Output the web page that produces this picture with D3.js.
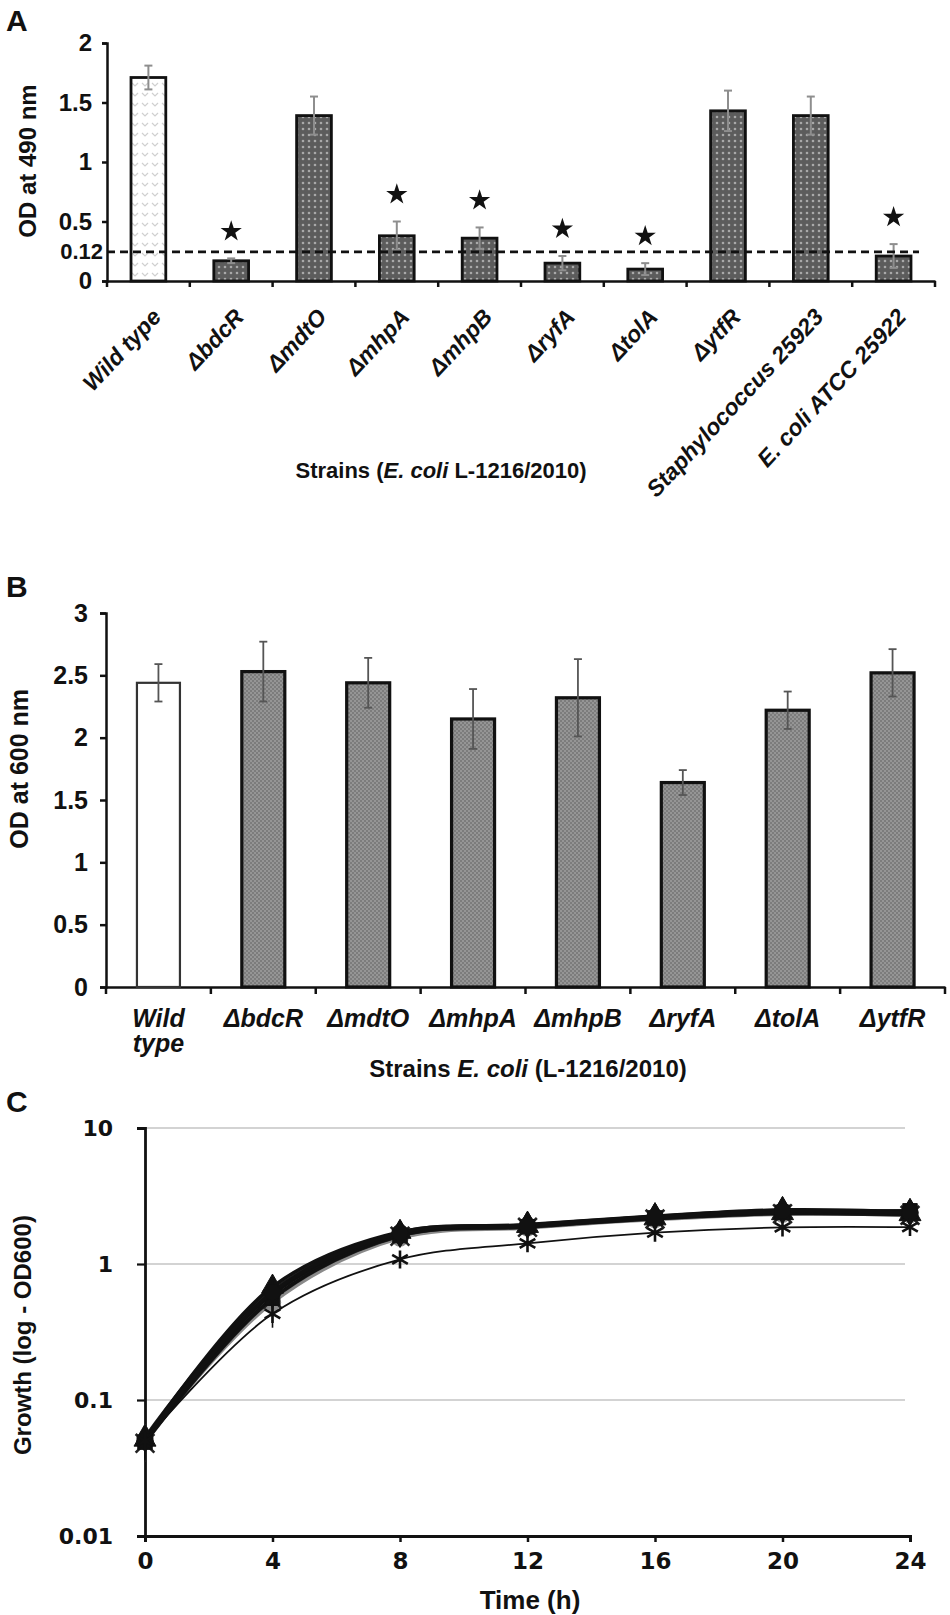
<!DOCTYPE html>
<html>
<head>
<meta charset="utf-8">
<title>Biofilm and growth of E. coli L-1216/2010 mutants</title>
<script src="https://d3js.org/d3.v7.min.js"></script>
<style>
  body { margin: 0; background: #fff; }
  svg text { font-family: "Liberation Sans", Arial, sans-serif; fill: #111; }
  .axis path, .axis line { stroke: #111; }
  .axisC text { font-family: "DejaVu Sans", sans-serif; font-weight: bold; }
</style>
</head>
<body>
<script>
// ---- Panel A: biofilm, OD at 490 nm
var strainsA = ["Wild type", "ΔbdcR", "ΔmdtO", "ΔmhpA", "ΔmhpB", "ΔryfA", "ΔtolA", "ΔytfR",
                "Staphylococcus 25923", "E. coli ATCC 25922"];
var biofilmOD = [1.71, 0.17, 1.39, 0.38, 0.36, 0.15, 0.10, 1.43, 1.39, 0.21];
var biofilmErr = [0.10, 0.02, 0.16, 0.12, 0.09, 0.06, 0.05, 0.17, 0.16, 0.10];
var biofilmSignif = [false, true, false, true, true, true, true, false, false, true];
var ticksA = [0, 0.5, 1, 1.5, 2];
var cutoffLabel = "0.12";
var cutoffDrawnAt = 0.245;   // where the original figure draws its 0.12 cut-off line

// ---- Panel B: planktonic growth, OD at 600 nm
var strainsB = ["Wild type", "ΔbdcR", "ΔmdtO", "ΔmhpA", "ΔmhpB", "ΔryfA", "ΔtolA", "ΔytfR"];
var growthOD = [2.44, 2.53, 2.44, 2.15, 2.32, 1.64, 2.22, 2.52];
var growthErr = [0.15, 0.24, 0.20, 0.24, 0.31, 0.10, 0.15, 0.19];
var ticksB = [0, 0.5, 1, 1.5, 2, 2.5, 3];

// ---- Panel C: growth curves (log OD600)
var hours = [0, 4, 8, 12, 16, 20, 24];
var odWild = [0.050, 0.62, 1.70, 1.92, 2.22, 2.45, 2.38];
var odBdcR = [0.052, 0.60, 1.66, 1.95, 2.25, 2.50, 2.42];
var odMdtO = [0.049, 0.56, 1.62, 1.88, 2.18, 2.40, 2.46];
var odMhpA = [0.051, 0.68, 1.72, 1.90, 2.16, 2.36, 2.32];
var odMhpB = [0.050, 0.52, 1.55, 1.84, 2.12, 2.32, 2.30];
var odRyfA = [0.050, 0.43, 1.08, 1.42, 1.70, 1.86, 1.87];
var odTolA = [0.048, 0.55, 1.60, 1.86, 2.14, 2.34, 2.28];
var odYtfR = [0.053, 0.64, 1.68, 1.94, 2.24, 2.48, 2.40];
var odErr = [0.013, 0.09, 0.06, 0.06, 0.07, 0.07, 0.07];
var ticksCx = [0, 4, 8, 12, 16, 20, 24];
var ticksCy = [0.01, 0.1, 1, 10];

var svg = d3.select("body").append("svg")
    .attr("width", 950)
    .attr("height", 1615);

// fill patterns
var defs = svg.append("defs");
var pDark = defs.append("pattern").attr("id", "dotsDark")
    .attr("patternUnits", "userSpaceOnUse").attr("width", 6).attr("height", 6);
pDark.append("rect").attr("width", 6).attr("height", 6).attr("fill", "#5c5c5c");
pDark.append("circle").attr("cx", 3).attr("cy", 3).attr("r", 1.3).attr("fill", "#a9a9a9");

var pLight = defs.append("pattern").attr("id", "chevLight")
    .attr("patternUnits", "userSpaceOnUse").attr("width", 10).attr("height", 10);
pLight.append("rect").attr("width", 10).attr("height", 10).attr("fill", "#fff");
pLight.append("path").attr("d", "M2,3 L5,6 L8,3").attr("fill", "none")
    .attr("stroke", "#d0d0d0").attr("stroke-width", 1.2);

var pCheck = defs.append("pattern").attr("id", "checkGray")
    .attr("patternUnits", "userSpaceOnUse").attr("width", 4).attr("height", 4);
pCheck.append("rect").attr("width", 4).attr("height", 4).attr("fill", "#959595");
pCheck.append("rect").attr("width", 2).attr("height", 2).attr("fill", "#7c7c7c");
pCheck.append("rect").attr("x", 2).attr("y", 2).attr("width", 2).attr("height", 2).attr("fill", "#7c7c7c");

// panel letters
svg.append("text").attr("x", 6).attr("y", 31).attr("font-size", 30).attr("font-weight", "bold").text("A");
svg.append("text").attr("x", 6).attr("y", 597).attr("font-size", 30).attr("font-weight", "bold").text("B");
svg.append("text").attr("x", 6).attr("y", 1112).attr("font-size", 30).attr("font-weight", "bold").text("C");

// ================= Panel A =================
var xA = d3.scaleBand().domain(strainsA).range([107, 935]).paddingInner(0.58).paddingOuter(0.29);
var yA = d3.scaleLinear().domain([0, 2]).range([281, 43]);
var gA = svg.append("g");

gA.append("g").attr("class", "axis")
    .attr("transform", "translate(107,0)")
    .call(d3.axisLeft(yA).tickValues(ticksA.concat([cutoffDrawnAt])).tickSize(5).tickPadding(10)
        .tickFormat(function(d) { return d === cutoffDrawnAt ? cutoffLabel : String(d); }))
    .call(function(g) {
        g.select(".domain").attr("stroke-width", 2.5);
        g.selectAll(".tick line").attr("stroke-width", 2.5)
            .filter(function(d) { return d === cutoffDrawnAt; }).remove();
        g.selectAll("text").attr("font-size", 24).attr("font-weight", "bold").attr("fill", "#111");
        g.selectAll(".tick text").filter(function(d) { return d === cutoffDrawnAt; })
            .attr("font-size", 22).attr("x", -4).attr("fill", "#444");
    });

gA.append("g").attr("class", "axis")
    .attr("transform", "translate(0," + yA(0) + ")")
    .call(d3.axisBottom(xA).tickSize(0).tickFormat(""))
    .call(function(g) { g.select(".domain").attr("stroke-width", 2.5); });

// boundary ticks between categories
gA.selectAll(".btick").data(d3.range(strainsA.length + 1)).join("line")
    .attr("x1", function(i) { return xA.range()[0] + i * xA.step(); })
    .attr("x2", function(i) { return xA.range()[0] + i * xA.step(); })
    .attr("y1", yA(0)).attr("y2", yA(0) + 6)
    .attr("stroke", "#111").attr("stroke-width", 2.5);

// bars
gA.selectAll(".barA").data(strainsA).join("rect")
    .attr("x", function(d) { return xA(d); })
    .attr("width", xA.bandwidth())
    .attr("y", function(d, i) { return yA(biofilmOD[i]); })
    .attr("height", function(d, i) { return yA(0) - yA(biofilmOD[i]); })
    .attr("fill", function(d, i) { return i === 0 ? "url(#chevLight)" : "url(#dotsDark)"; })
    .attr("stroke", "#111").attr("stroke-width", 2.8);

// error bars
var errA = gA.selectAll(".errA").data(strainsA).join("g")
    .attr("stroke", "#8e8e8e").attr("stroke-width", 2);
errA.append("line")
    .attr("x1", function(d) { return xA(d) + xA.bandwidth() / 2; })
    .attr("x2", function(d) { return xA(d) + xA.bandwidth() / 2; })
    .attr("y1", function(d, i) { return yA(biofilmOD[i] - biofilmErr[i]); })
    .attr("y2", function(d, i) { return yA(biofilmOD[i] + biofilmErr[i]); });
[1, -1].forEach(function(s) {
    errA.append("line")
        .attr("x1", function(d) { return xA(d) + xA.bandwidth() / 2 - 4; })
        .attr("x2", function(d) { return xA(d) + xA.bandwidth() / 2 + 4; })
        .attr("y1", function(d, i) { return yA(biofilmOD[i] + s * biofilmErr[i]); })
        .attr("y2", function(d, i) { return yA(biofilmOD[i] + s * biofilmErr[i]); });
});

// cut-off line
gA.append("line")
    .attr("x1", xA.range()[0]).attr("x2", xA(strainsA[strainsA.length - 1]) + xA.bandwidth() + 8)
    .attr("y1", yA(cutoffDrawnAt)).attr("y2", yA(cutoffDrawnAt))
    .attr("stroke", "#111").attr("stroke-width", 2.6).attr("stroke-dasharray", "8,5");

// significance stars
gA.selectAll(".star").data(strainsA.filter(function(d, i) { return biofilmSignif[i]; })).join("path")
    .attr("d", d3.symbol().type(d3.symbolStar).size(140))
    .attr("transform", function(d) {
        var i = strainsA.indexOf(d);
        return "translate(" + (xA(d) + xA.bandwidth() / 2) + "," + (yA(biofilmOD[i] + biofilmErr[i]) - 27) + ")";
    })
    .attr("fill", "#111");

// rotated strain labels
gA.selectAll(".labA").data(strainsA).join("text")
    .attr("transform", function(d) {
        return "translate(" + (xA(d) + xA.bandwidth() / 2 + 14) + ",318) rotate(-47)";
    })
    .attr("text-anchor", "end")
    .attr("font-size", 23).attr("font-weight", "bold").attr("font-style", "italic")
    .text(function(d) { return d; });

gA.append("text")
    .attr("transform", "translate(27," + (yA(1) - 1) + ") rotate(-90)")
    .attr("text-anchor", "middle").attr("dominant-baseline", "central")
    .attr("font-size", 24).attr("font-weight", "bold")
    .text("OD at 490 nm");

var titleA = gA.append("text").attr("x", 441).attr("y", 478)
    .attr("text-anchor", "middle").attr("font-size", 22).attr("font-weight", "bold");
titleA.append("tspan").text("Strains (");
titleA.append("tspan").attr("font-style", "italic").text("E. coli");
titleA.append("tspan").text(" L-1216/2010)");

// ================= Panel B =================
var xB = d3.scaleBand().domain(strainsB).range([106, 945]).paddingInner(0.59).paddingOuter(0.295);
var yB = d3.scaleLinear().domain([0, 3]).range([987, 613]);
var gB = svg.append("g");

gB.append("g").attr("class", "axis")
    .attr("transform", "translate(106,0)")
    .call(d3.axisLeft(yB).tickValues(ticksB).tickSize(6).tickPadding(12)
        .tickFormat(function(d) { return String(d); }))
    .call(function(g) {
        g.select(".domain").attr("stroke-width", 2.5);
        g.selectAll(".tick line").attr("stroke-width", 2.5);
        g.selectAll("text").attr("font-size", 25).attr("font-weight", "bold").attr("fill", "#111");
    });

gB.append("g").attr("class", "axis")
    .attr("transform", "translate(0," + yB(0) + ")")
    .call(d3.axisBottom(xB).tickSize(0).tickFormat(""))
    .call(function(g) { g.select(".domain").attr("stroke-width", 2.5); });

gB.selectAll(".btick").data(d3.range(strainsB.length + 1)).join("line")
    .attr("x1", function(i) { return xB.range()[0] + i * xB.step(); })
    .attr("x2", function(i) { return xB.range()[0] + i * xB.step(); })
    .attr("y1", yB(0)).attr("y2", yB(0) + 7)
    .attr("stroke", "#111").attr("stroke-width", 2.5);

gB.selectAll(".barB").data(strainsB).join("rect")
    .attr("x", function(d) { return xB(d); })
    .attr("width", xB.bandwidth())
    .attr("y", function(d, i) { return yB(growthOD[i]); })
    .attr("height", function(d, i) { return yB(0) - yB(growthOD[i]); })
    .attr("fill", function(d, i) { return i === 0 ? "#fff" : "url(#checkGray)"; })
    .attr("stroke", function(d, i) { return i === 0 ? "#333" : "#111"; })
    .attr("stroke-width", function(d, i) { return i === 0 ? 2.2 : 3.2; });

var errB = gB.selectAll(".errB").data(strainsB).join("g")
    .attr("stroke", "#555").attr("stroke-width", 1.8);
errB.append("line")
    .attr("x1", function(d) { return xB(d) + xB.bandwidth() / 2; })
    .attr("x2", function(d) { return xB(d) + xB.bandwidth() / 2; })
    .attr("y1", function(d, i) { return yB(growthOD[i] - growthErr[i]); })
    .attr("y2", function(d, i) { return yB(growthOD[i] + growthErr[i]); });
[1, -1].forEach(function(s) {
    errB.append("line")
        .attr("x1", function(d) { return xB(d) + xB.bandwidth() / 2 - 4; })
        .attr("x2", function(d) { return xB(d) + xB.bandwidth() / 2 + 4; })
        .attr("y1", function(d, i) { return yB(growthOD[i] + s * growthErr[i]); })
        .attr("y2", function(d, i) { return yB(growthOD[i] + s * growthErr[i]); });
});

var labB = gB.selectAll(".labB").data(strainsB).join("text")
    .attr("x", function(d) { return xB(d) + xB.bandwidth() / 2; })
    .attr("y", 1027)
    .attr("text-anchor", "middle")
    .attr("font-size", 25).attr("font-weight", "bold").attr("font-style", "italic");
labB.each(function(d) {
    var words = d.split(" ");
    var t = d3.select(this);
    words.forEach(function(w, k) {
        t.append("tspan").attr("x", t.attr("x")).attr("dy", k === 0 ? 0 : 25).text(w);
    });
});

gB.append("text")
    .attr("transform", "translate(19," + yB(1.75) + ") rotate(-90)")
    .attr("text-anchor", "middle").attr("dominant-baseline", "central")
    .attr("font-size", 25).attr("font-weight", "bold")
    .text("OD at 600 nm");

var titleB = gB.append("text").attr("x", 528).attr("y", 1077)
    .attr("text-anchor", "middle").attr("font-size", 24).attr("font-weight", "bold");
titleB.append("tspan").text("Strains ");
titleB.append("tspan").attr("font-style", "italic").text("E. coli");
titleB.append("tspan").text(" (L-1216/2010)");

// ================= Panel C =================
var xC = d3.scaleLinear().domain([0, 24]).range([145, 910]);
var yC = d3.scaleLog().domain([0.01, 10]).range([1536, 1128]);
var gC = svg.append("g");

// gridlines
gC.selectAll(".grid").data(ticksCy.slice(1)).join("line")
    .attr("x1", xC(0)).attr("x2", xC(24) - 5)
    .attr("y1", function(d) { return yC(d); }).attr("y2", function(d) { return yC(d); })
    .attr("stroke", "#c4c4c4").attr("stroke-width", 1.6);

gC.append("g").attr("class", "axis axisC")
    .attr("transform", "translate(" + xC(0) + ",0)")
    .call(d3.axisLeft(yC).tickValues(ticksCy).tickSize(8).tickPadding(24)
        .tickFormat(function(d) { return String(d); }))
    .call(function(g) {
        g.select(".domain").attr("stroke-width", 2.8);
        g.selectAll(".tick line").attr("stroke-width", 2.2);
        g.selectAll("text").attr("font-size", 22).attr("fill", "#111");
    });

gC.append("g").attr("class", "axis axisC")
    .attr("transform", "translate(0," + yC(0.01) + ")")
    .call(d3.axisBottom(xC).tickValues(ticksCx).tickSize(6).tickPadding(11))
    .call(function(g) {
        g.select(".domain").attr("stroke-width", 3);
        g.selectAll(".tick line").attr("stroke-width", 2.5);
        g.selectAll("text").attr("font-size", 23).attr("fill", "#111");
    });

// drawing order: grey curve first, then the black cluster, the low curve last
var curves = [
    { name: "ΔmhpB",     od: odMhpB, sym: d3.symbolCircle,   color: "#8a8a8a", w: 3.4, fill: true },
    { name: "ΔtolA",     od: odTolA, sym: d3.symbolTimes,    color: "#222", w: 3, fill: false },
    { name: "ΔytfR",     od: odYtfR, sym: d3.symbolDiamond,  color: "#222", w: 3.4, fill: true },
    { name: "ΔmhpA",     od: odMhpA, sym: d3.symbolTriangle, color: "#111", w: 3.6, fill: true },
    { name: "ΔmdtO",     od: odMdtO, sym: d3.symbolSquare,   color: "#111", w: 3.6, fill: true },
    { name: "ΔbdcR",     od: odBdcR, sym: d3.symbolDiamond,  color: "#111", w: 3.6, fill: true },
    { name: "Wild type", od: odWild, sym: d3.symbolCircle,   color: "#111", w: 3.8, fill: true },
    { name: "ΔryfA",     od: odRyfA, sym: d3.symbolAsterisk, color: "#111", w: 1.8, fill: false }
];

var lineC = d3.line()
    .x(function(d) { return xC(d[0]); })
    .y(function(d) { return yC(d[1]); })
    .curve(d3.curveCatmullRom.alpha(0.5));

curves.forEach(function(c) {
    var pts = hours.map(function(h, i) { return [h, c.od[i]]; });
    var g = gC.append("g");
    g.append("path").datum(pts)
        .attr("d", lineC).attr("fill", "none")
        .attr("stroke", c.color).attr("stroke-width", c.w);
    g.selectAll(".eb").data(pts).join("line")
        .attr("x1", function(d) { return xC(d[0]); }).attr("x2", function(d) { return xC(d[0]); })
        .attr("y1", function(d, i) { return yC(d[1] - odErr[i]); })
        .attr("y2", function(d, i) { return yC(d[1] + odErr[i]); })
        .attr("stroke", c.color).attr("stroke-width", 1.6);
    g.selectAll(".mk").data(pts).join("path")
        .attr("d", d3.symbol().type(c.sym).size(c.fill ? 210 : 230))
        .attr("transform", function(d) { return "translate(" + xC(d[0]) + "," + yC(d[1]) + ")"; })
        .attr("fill", c.fill ? c.color : "none")
        .attr("stroke", c.color).attr("stroke-width", c.fill ? 1 : 2.6);
});

gC.append("text")
    .attr("transform", "translate(22," + yC(0.3) + ") rotate(-90)")
    .attr("text-anchor", "middle").attr("dominant-baseline", "central")
    .attr("font-size", 24).attr("font-weight", "bold").attr("fill", "#222")
    .text("Growth (log - OD600)");

gC.append("text")
    .attr("x", 530).attr("y", 1609)
    .attr("text-anchor", "middle")
    .attr("font-family", "DejaVu Sans").attr("font-size", 26).attr("font-weight", "bold")
    .text("Time (h)");
</script>
</body>
</html>
